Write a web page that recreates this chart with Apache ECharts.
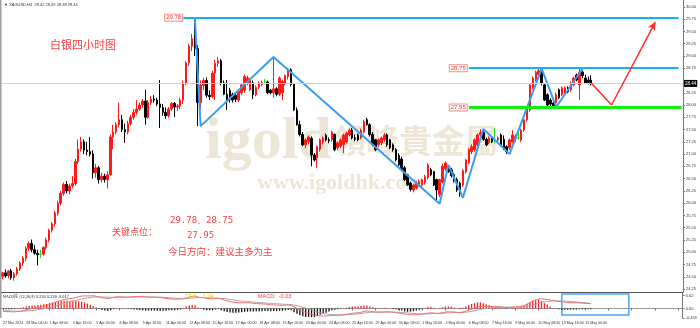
<!DOCTYPE html>
<html><head><meta charset="utf-8">
<script src="https://cdn.jsdelivr.net/npm/echarts@6/dist/echarts.min.js"></script>
<style>html,body{margin:0;padding:0;background:#fff}#c{width:700px;height:328px}</style>
</head><body><div id="c"></div>
<script>
// ---------- DATA ----------
const opens  = [24.50,24.58,24.52,24.62,24.48,24.56,24.66,24.78,24.88,25.08, 25.18,25.05,24.98,24.96,24.96,25.10,25.25,25.45,25.58,25.80,
 26.00,26.20,26.38,26.25,26.35,26.40,26.85,27.10,27.25,27.08, 27.05,27.00,26.62,26.72,26.48,26.55,26.48,26.58,27.35,27.45,
 27.60,27.70,27.50,27.45,27.62,27.75,27.85,27.92,28.00,28.08, 27.75,28.05,28.12,28.10,28.02,27.95,27.85,27.78,27.92,28.03,
 27.96,27.98,28.10,28.45,28.86,29.20,29.35,29.15,28.05,28.40, 28.50,28.20,28.17,28.65,28.85,28.90,28.45,28.22,28.30,28.21,
 28.20,28.10,28.25,28.30,28.45,28.31,28.45,28.21,28.36,28.42, 28.47,28.47,28.30,28.25,28.33,28.22,28.25,28.45,28.58,28.72,
 28.42,27.90,27.60,27.40,27.19,27.25,27.32,26.98,26.92,27.10, 27.25,27.38,27.29,27.29,27.40,27.13,27.16,27.19,27.25,27.39,
 27.49,27.33,27.39,27.33,27.45,27.70,27.60,27.40,27.29,27.19, 27.23,27.29,27.39,27.29,27.19,27.09,26.98,26.90,26.72,26.58,
 26.41,26.27,26.31,26.38,26.37,26.42,26.52,26.68,26.64,26.48, 26.17,26.43,26.70,26.72,26.68,26.58,26.48,26.41,26.37,26.64,
 26.82,27.05,27.09,27.19,27.39,27.44,27.30,27.23,27.33,27.28, 27.29,27.39,27.30,27.15,27.13,27.25,27.32,27.33,27.29,27.49,
 27.70,27.90,28.36,28.51,28.62,28.72,28.41,28.21,28.10,28.04, 28.04,28.31,28.21,28.25,28.35,28.31,28.41,28.61,28.41,28.67,
 28.55,28.51,28.51];
const highs  = [24.60,24.65,24.64,24.66,24.60,24.70,24.82,24.92,25.12,25.22, 25.26,25.15,25.05,25.05,25.12,25.30,25.48,25.62,25.85,26.05,
 26.25,26.42,26.45,26.40,26.55,26.90,27.30,27.35,27.30,27.25, 27.35,27.08,26.80,26.76,26.62,26.60,26.65,27.40,27.60,27.65,
 28.05,27.80,27.62,27.68,27.80,27.92,28.10,28.05,28.12,28.31, 28.10,28.18,28.20,28.15,28.51,28.02,27.95,27.96,28.06,28.06,
 28.02,28.15,28.50,28.90,29.25,29.45,29.78,29.22,28.50,28.55, 28.56,28.30,28.70,28.92,28.98,28.94,28.50,28.51,28.35,28.25,
 28.24,28.30,28.45,28.62,28.60,28.54,28.50,28.40,28.48,28.50, 28.53,28.50,28.33,28.98,28.36,28.58,28.52,28.62,28.76,28.75,
 28.45,27.95,27.68,27.45,27.32,27.38,27.36,27.02,27.18,27.32, 27.36,27.42,27.34,27.48,27.42,27.26,27.32,27.42,27.46,27.52,
 27.53,27.40,27.42,27.52,27.70,27.74,27.63,27.45,27.31,27.32, 27.36,27.43,27.42,27.31,27.22,27.12,27.02,26.95,26.76,26.60,
 26.44,26.40,26.45,26.48,26.50,26.58,26.82,26.72,26.66,26.50, 26.50,26.80,26.85,26.76,26.72,26.62,26.52,26.44,26.70,26.90,
 27.12,27.20,27.32,27.42,27.51,27.47,27.34,27.36,27.36,27.53, 27.36,27.42,27.38,27.18,27.32,27.49,27.40,27.49,27.52,27.72,
 27.95,28.45,28.58,28.70,28.76,28.76,28.44,28.24,28.14,28.08, 28.25,28.34,28.38,28.38,28.38,28.48,28.58,28.64,28.75,28.70,
 28.62,28.58,28.61];
const lows   = [24.45,24.48,24.47,24.44,24.42,24.52,24.62,24.72,24.82,25.02, 25.00,24.95,24.73,24.88,24.93,25.05,25.20,25.40,25.52,25.75,
 25.95,26.15,26.20,26.18,26.30,26.36,26.80,27.05,27.00,26.98, 26.95,26.50,26.52,26.40,26.42,26.42,26.30,26.55,27.10,27.40,
 27.55,27.45,27.23,27.40,27.58,27.70,27.80,27.88,27.95,27.60, 27.72,28.00,28.05,27.98,27.53,27.78,27.72,27.74,27.88,27.75,
 27.88,27.92,28.02,28.40,28.80,29.10,29.00,27.57,27.92,28.30, 28.15,28.10,28.14,28.10,28.78,28.40,28.20,27.90,28.05,28.05,
 28.06,28.06,28.20,28.25,28.40,28.28,28.12,28.18,28.32,28.38, 28.42,28.22,28.22,28.15,28.18,28.18,28.10,28.40,28.52,28.38,
 27.88,27.58,27.36,27.16,27.12,27.20,26.75,26.85,26.72,27.05, 27.20,27.26,27.22,27.25,27.06,27.08,27.12,27.02,27.22,27.36,
 27.30,27.26,27.26,27.30,27.42,27.58,27.36,27.16,27.06,27.14, 27.18,27.25,27.15,27.10,27.05,26.85,26.75,26.65,26.45,26.35,
 26.24,26.22,26.28,26.34,26.33,26.38,26.48,26.55,26.35,26.05, 26.12,26.40,26.66,26.62,26.52,26.42,26.23,26.13,26.33,26.60,
 26.80,27.00,27.05,27.15,27.35,27.27,27.16,27.20,27.22,27.22, 27.26,27.16,27.08,27.00,27.08,27.22,27.25,27.29,27.25,27.45,
 27.66,27.86,28.32,28.48,28.58,28.40,28.08,27.94,27.96,27.95, 27.98,28.12,28.18,28.22,28.24,28.27,28.38,28.48,28.10,28.55,
 28.43,28.42,28.40];
const closes = [24.58,24.52,24.62,24.48,24.56,24.66,24.78,24.88,25.08,25.18, 25.05,24.98,24.95,24.96,25.10,25.25,25.45,25.58,25.80,26.00,
 26.20,26.38,26.25,26.35,26.40,26.85,27.10,27.25,27.08,27.05, 27.00,26.62,26.72,26.48,26.55,26.48,26.58,27.35,27.45,27.60,
 27.70,27.50,27.45,27.62,27.75,27.85,27.92,28.00,28.08,27.75, 28.05,28.12,28.10,28.02,27.95,27.85,27.78,27.92,28.03,27.96,
 27.98,28.10,28.45,28.86,29.20,29.35,29.15,28.05,28.40,28.50, 28.20,28.17,28.65,28.85,28.90,28.45,28.22,28.10,28.12,28.10,
 28.12,28.28,28.41,28.58,28.55,28.51,28.21,28.36,28.45,28.46, 28.47,28.25,28.25,28.33,28.22,28.55,28.48,28.60,28.72,28.42,
 27.90,27.60,27.40,27.19,27.29,27.35,26.98,26.88,27.15,27.29, 27.33,27.29,27.27,27.45,27.09,27.23,27.29,27.39,27.43,27.49,
 27.33,27.30,27.29,27.49,27.66,27.60,27.40,27.19,27.09,27.29, 27.33,27.39,27.19,27.13,27.09,26.88,26.78,26.68,26.48,26.37,
 26.28,26.37,26.41,26.44,26.48,26.54,26.78,26.58,26.37,26.27, 26.48,26.75,26.82,26.64,26.56,26.45,26.27,26.27,26.66,26.88,
 27.09,27.15,27.29,27.39,27.44,27.30,27.19,27.33,27.25,27.28, 27.33,27.19,27.10,27.05,27.29,27.39,27.36,27.33,27.49,27.70,
 27.92,28.41,28.55,28.67,28.70,28.45,28.10,28.00,28.02,27.98, 28.21,28.15,28.35,28.35,28.27,28.45,28.55,28.51,28.67,28.60,
 28.45,28.46,28.44];

const dif = [-0.14,-0.15,-0.15,-0.16,-0.16,-0.15,-0.13,-0.10,-0.06,-0.03, 0.00,0.02,0.04,0.06,0.10,0.14,0.19,0.24,0.30,0.35,
 0.40,0.43,0.46,0.48,0.50,0.53,0.57,0.60,0.61,0.61, 0.61,0.62,0.59,0.56,0.53,0.50,0.48,0.51,0.54,0.56,
 0.57,0.56,0.55,0.55,0.56,0.57,0.58,0.58,0.59,0.56, 0.55,0.55,0.55,0.54,0.53,0.51,0.49,0.47,0.46,0.45,
 0.45,0.46,0.48,0.51,0.55,0.59,0.60,0.55,0.53,0.52, 0.49,0.47,0.47,0.48,0.49,0.45,0.41,0.37,0.34,0.31,
 0.29,0.28,0.28,0.28,0.28,0.27,0.25,0.24,0.23,0.22, 0.22,0.20,0.18,0.18,0.16,0.16,0.15,0.16,0.17,0.15,
 0.08,0.01,-0.07,-0.14,-0.19,-0.22,-0.28,-0.33,-0.35,-0.36, -0.36,-0.36,-0.35,-0.33,-0.33,-0.33,-0.32,-0.30,-0.28,-0.25,
 -0.23,-0.22,-0.21,-0.18,-0.14,-0.12,-0.13,-0.15,-0.17,-0.17, -0.17,-0.16,-0.16,-0.17,-0.18,-0.20,-0.22,-0.24,-0.27,-0.29,
 -0.30,-0.30,-0.30,-0.29,-0.27,-0.25,-0.22,-0.21,-0.22,-0.24, -0.23,-0.20,-0.17,-0.16,-0.16,-0.17,-0.19,-0.20,-0.17,-0.13,
 -0.08,-0.03,0.02,0.07,0.10,0.11,0.10,0.10,0.09,0.09, 0.09,0.08,0.06,0.05,0.06,0.07,0.08,0.09,0.11,0.15,
 0.21,0.29,0.36,0.42,0.46,0.47,0.45,0.43,0.41,0.38, 0.36,0.34,0.33,0.31,0.29,0.28,0.28,0.28,0.27,0.26,
 0.25,0.24,0.23];
const dea = [-0.10,-0.11,-0.11,-0.12,-0.12,-0.13,-0.13,-0.13,-0.12,-0.11, -0.10,-0.08,-0.06,-0.04,-0.01,0.02,0.05,0.09,0.13,0.17,
 0.21,0.25,0.29,0.32,0.36,0.39,0.42,0.46,0.49,0.51, 0.53,0.55,0.56,0.56,0.56,0.55,0.55,0.54,0.54,0.55,
 0.55,0.55,0.55,0.55,0.55,0.55,0.56,0.56,0.56,0.56, 0.56,0.56,0.55,0.55,0.55,0.54,0.53,0.52,0.51,0.50,
 0.49,0.49,0.48,0.49,0.50,0.51,0.52,0.53,0.53,0.53, 0.52,0.51,0.51,0.50,0.50,0.49,0.48,0.46,0.44,0.42,
 0.40,0.38,0.36,0.35,0.34,0.33,0.31,0.30,0.29,0.28, 0.27,0.26,0.25,0.24,0.23,0.22,0.21,0.20,0.20,0.19,
 0.17,0.14,0.10,0.06,0.02,-0.02,-0.07,-0.12,-0.17,-0.21, -0.24,-0.26,-0.28,-0.29,-0.30,-0.31,-0.31,-0.31,-0.30,-0.29,
 -0.28,-0.27,-0.26,-0.24,-0.22,-0.20,-0.19,-0.18,-0.18,-0.18, -0.18,-0.18,-0.17,-0.17,-0.17,-0.18,-0.18,-0.19,-0.20,-0.21,
 -0.23,-0.24,-0.25,-0.26,-0.26,-0.26,-0.26,-0.25,-0.24,-0.24, -0.24,-0.23,-0.22,-0.21,-0.20,-0.19,-0.19,-0.19,-0.19,-0.18,
 -0.16,-0.14,-0.11,-0.08,-0.05,-0.02,0.00,0.02,0.03,0.04, 0.05,0.06,0.06,0.06,0.06,0.06,0.06,0.07,0.07,0.08,
 0.10,0.13,0.17,0.21,0.25,0.29,0.32,0.34,0.36,0.37, 0.37,0.37,0.37,0.36,0.35,0.34,0.33,0.32,0.30,0.29,
 0.28,0.26,0.24];
const hist = [-0.02,-0.03,-0.03,-0.04,-0.03,-0.02,0.03,0.06,0.10,0.12, 0.13,0.15,0.17,0.18,0.20,0.22,0.26,0.29,0.32,0.35,
 0.36,0.37,0.38,0.38,0.37,0.36,0.35,0.33,0.30,0.24, 0.17,0.12,0.06,-0.02,-0.07,-0.10,-0.12,-0.08,-0.03,0.01,
 0.02,0.02,0.01,-0.02,-0.04,-0.05,-0.06,-0.07,-0.08,-0.10, -0.10,-0.10,-0.10,-0.11,-0.12,-0.11,-0.10,-0.09,-0.08,-0.08,
 -0.07,-0.05,0.03,0.10,0.15,0.17,0.16,0.05,-0.02,-0.06, -0.08,-0.09,-0.08,-0.05,-0.03,-0.08,-0.13,-0.17,-0.19,-0.20,
 -0.20,-0.19,-0.18,-0.16,-0.15,-0.14,-0.14,-0.13,-0.13,-0.13, -0.12,-0.12,-0.13,-0.12,-0.12,-0.11,-0.11,-0.09,-0.07,-0.09,
 -0.18,-0.25,-0.32,-0.38,-0.41,-0.40,-0.42,-0.42,-0.36,-0.30, -0.24,-0.20,-0.14,-0.08,-0.06,-0.04,-0.02,0.02,0.04,0.08,
 0.10,0.10,0.10,0.12,0.14,0.14,0.10,0.06,0.02,0.02, 0.02,0.04,0.02,0.00,-0.02,-0.04,-0.08,-0.10,-0.14,-0.16,
 -0.15,-0.13,-0.10,-0.06,-0.02,0.02,0.08,0.08,0.04,0.00, 0.02,0.06,0.10,0.10,0.08,0.04,0.00,-0.02,0.04,0.10,
 0.16,0.22,0.26,0.30,0.30,0.26,0.20,0.16,0.12,0.10, 0.08,0.04,0.00,-0.02,0.00,0.02,0.04,0.04,0.08,0.14,
 0.22,0.30,0.36,0.40,0.42,0.36,0.26,0.18,0.10,0.02, -0.02,-0.04,-0.06,-0.06,-0.06,-0.06,-0.05,-0.05,-0.04,-0.04,
 -0.04,-0.04,-0.03];

const tickLabels = ["27 Mar 2024","28 Mar 04:00","1 Apr 08:00","3 Apr 16:00","5 Apr 00:00","8 Apr 08:00","9 Apr 16:00",
 "11 Apr 00:00","12 Apr 08:00","15 Apr 16:00","17 Apr 00:00","18 Apr 08:00","19 Apr 16:00","23 Apr 00:00","24 Apr 08:00",
 "25 Apr 16:00","29 Apr 00:00","30 Apr 08:00","1 May 16:00","3 May 00:00","6 May 08:00","7 May 16:00","9 May 00:00",
 "10 May 08:00","13 May 16:00","15 May 00:00"];
const priceTicks = [24.25,24.50,24.75,25.00,25.25,25.50,25.75,26.00,26.25,26.50,26.75,27.00,27.25,27.50,27.75,28.00,28.25,28.75,29.00,29.25,29.50,29.75,30.00];
const macdTicks = [0.62, 0, -0.459];
const macdTickText = ["0.62","0.00","-0.459"];

const zigzag = [[66.4,29.78],[68.1,27.57],[92.8,28.98],[150.1,25.99],[152.5,26.78],[157.7,26.11],[164.5,27.51],[173.5,27.0],[185.1,28.74],[189.6,27.96],[199.2,28.74]];
const forecast = [[202.3,28.45],[208.8,28.0],[223.9,29.69]];
const resist1 = 29.78, resist2 = 28.75, support1 = 27.95;
const lastPrice = 28.44;
const slotCount = 234;

// ---------- CHART ----------
const cats = Array.from({length: slotCount}, (_, i) => String(i));
const candles = opens.map((o, i) => [o, closes[i], lows[i], highs[i]]);
const histData = hist.map(v => ({value: v, itemStyle: {color: v >= 0 ? '#ff1a1a' : '#111'}}));

const chart = echarts.init(document.getElementById('c'), null, {renderer: 'canvas'});
const tinyLbl = {fontSize: 6, color: '#ff3030', backgroundColor: '#fff', borderColor: '#ff8a8a', borderWidth: 1, padding: [0, 1, 0, 1], fontFamily: 'Liberation Sans'};
const lineEnd = 232;

chart.setOption({
  animation: false,
  backgroundColor: '#fff',
  grid: [
    {left: 1, right: 17, top: 0, height: 292},
    {left: 1, right: 17, top: 293, height: 25}
  ],
  xAxis: [
    {type: 'category', gridIndex: 0, data: cats, boundaryGap: true,
     axisLine: {show: true, lineStyle: {color: '#555', width: 1}}, axisTick: {show: false}, axisLabel: {show: false}, splitLine: {show: false}},
    {type: 'category', gridIndex: 1, data: cats, boundaryGap: true,
     axisLine: {show: true, lineStyle: {color: '#999', width: 1}},
     axisTick: {show: true, interval: 7, length: 2, alignWithLabel: true, lineStyle: {color: '#777'}},
     axisLabel: {show: true, interval: 7, showMinLabel: true, hideOverlap: false, fontSize: 3.6, color: '#333', margin: 2.5, align: 'left', fontFamily: 'Liberation Sans',
       formatter: (v, idx) => (idx % 8 === 0 && tickLabels[idx / 8]) ? tickLabels[idx / 8] : ''},
     splitLine: {show: false}}
  ],
  yAxis: [
    {type: 'value', gridIndex: 0, position: 'right', min: 24.19, max: 30.14, splitLine: {show: false},
     axisLine: {show: true, lineStyle: {color: '#777'}},
     axisTick: {show: true, length: 2, customValues: priceTicks, lineStyle: {color: '#777'}},
     axisLabel: {customValues: priceTicks, fontSize: 4, color: '#333', margin: 3, fontFamily: 'Liberation Sans', formatter: v => v.toFixed(2)}},
    {type: 'value', gridIndex: 1, position: 'right', min: -0.459, max: 0.75, splitLine: {show: false},
     axisLine: {show: true, lineStyle: {color: '#777'}},
     axisTick: {show: true, length: 2, customValues: macdTicks, lineStyle: {color: '#777'}},
     axisLabel: {customValues: macdTicks, fontSize: 4, color: '#333', margin: 3, fontFamily: 'Liberation Sans',
       formatter: v => macdTickText[macdTicks.indexOf(v)] || ''}}
  ],
  series: [
    {type: 'candlestick', xAxisIndex: 0, yAxisIndex: 0, data: candles, barWidth: 2, z: 3,
     itemStyle: {color: '#ff1a1a', color0: '#000', borderColor: '#ff1a1a', borderColor0: '#000', borderColorDoji: '#22dd22', borderWidth: 1},
     markLine: {silent: true, symbol: ['none', 'none'], animation: false,
       data: [
         {yAxis: lastPrice, lineStyle: {color: '#cfcfcf', width: 1, type: 'solid'},
          label: {show: true, position: 'end', formatter: lastPrice.toFixed(2), backgroundColor: '#000', color: '#fff', fontSize: 4.5, padding: [1, 1], distance: 1, fontFamily: 'Liberation Sans'}},
         [{coord: [62, resist1], lineStyle: {color: '#17b2f0', width: 2, type: 'solid'}, label: Object.assign({show: true, position: 'start', distance: 1, formatter: resist1.toFixed(2)}, tinyLbl)}, {coord: [lineEnd, resist1]}],
         [{coord: [160, resist2], lineStyle: {color: '#17b2f0', width: 2, type: 'solid'}, label: Object.assign({show: true, position: 'start', distance: 2, formatter: resist2.toFixed(2)}, tinyLbl)}, {coord: [lineEnd, resist2]}],
         [{coord: [160, support1], lineStyle: {color: '#11ee11', width: 3, type: 'solid'}, label: Object.assign({show: true, position: 'start', distance: 2, formatter: support1.toFixed(2)}, tinyLbl)}, {coord: [lineEnd + 0.5, support1]}],
         [{coord: forecast[0], lineStyle: {color: '#ff2a2a', width: 1.5, type: 'solid'}, label: {show: false}}, {coord: forecast[1]}],
         [{coord: forecast[1], lineStyle: {color: '#ff2a2a', width: 1.5, type: 'solid'}, label: {show: false}}, {coord: forecast[2], symbol: 'arrow', symbolSize: [6, 8]}]
       ]}},
    {type: 'line', xAxisIndex: 0, yAxisIndex: 0, data: zigzag, symbol: 'none', z: 4,
     lineStyle: {color: '#3a9cf2', width: 2}},
    {type: 'bar', xAxisIndex: 1, yAxisIndex: 1, data: histData, barWidth: 1.3, z: 2},
    {type: 'line', xAxisIndex: 1, yAxisIndex: 1, data: dea, symbol: 'none', lineStyle: {color: '#a8a8a8', width: 1}, z: 3,
     markArea: {silent: true, itemStyle: {color: 'rgba(0,0,0,0)', borderColor: '#4aa8f0', borderWidth: 1.5},
       data: [[{coord: [191.5, 0.70]}, {coord: [215, -0.31]}]]}},
    {type: 'line', xAxisIndex: 1, yAxisIndex: 1, data: dif, symbol: 'none', lineStyle: {color: '#f07070', width: 1}, z: 4}
  ],
  graphic: [
    {type: 'rect', left: 0, top: 0, shape: {width: 1.5, height: 318}, style: {fill: '#a0a0a0'}, z: 10},
    {type: 'text', left: 205, top: 112, z: 0, style: {text: 'igold', font: 'bold 60px "Liberation Serif"', fill: '#ede6d6'}},
    {type: 'text', left: 333, top: 124, z: 0, style: {text: '領峰貴金屬', font: 'bold 33px "Noto Sans CJK TC"', fill: '#ede6d6'}},
    {type: 'text', left: 257, top: 172, z: 0, style: {text: 'www.igoldhk.com', font: 'bold 22px "Liberation Serif"', fill: '#ede6d6'}},
    {type: 'text', left: 4, top: 3, z: 10, style: {text: '▼ XAGUSD,H4  28.42 28.49 28.38 28.44', font: '4px "Liberation Sans"', fill: '#333'}},
    {type: 'text', left: 50, top: 39, z: 10, style: {text: '白银四小时图', font: '11px "Noto Sans CJK SC"', fill: '#ff3b3b'}},
    {type: 'text', left: 170, top: 216, z: 10, style: {text: '29.78、28.75', font: '9px "DejaVu Sans Mono"', fill: '#ff3b3b'}},
    {type: 'text', left: 112, top: 227, z: 10, style: {text: '关键点位：', font: '9px "Noto Sans CJK SC"', fill: '#ff3b3b'}},
    {type: 'text', left: 187, top: 231, z: 10, style: {text: '27.95', font: '9px "DejaVu Sans Mono"', fill: '#ff3b3b'}},
    {type: 'text', left: 168, top: 247, z: 10, style: {text: '今日方向：建议主多为主', font: '9.5px "Noto Sans CJK SC"', fill: '#ff3b3b'}},
    {type: 'text', left: 3, top: 294, z: 10, style: {text: 'MACD柱 (12,26,9) 0.226 0.239 -0.017', font: '4px "Noto Sans CJK SC"', fill: '#333'}},
    {type: 'text', left: 185, top: 293, z: 10, style: {text: 'DEA:   0.24', font: '5.5px "Liberation Sans"', fill: '#e8d400'}},
    {type: 'text', left: 258, top: 293, z: 10, style: {text: 'MACD:  -0.03', font: '5.5px "Liberation Sans"', fill: '#ff3030'}}
  ]
});
</script></body></html>
